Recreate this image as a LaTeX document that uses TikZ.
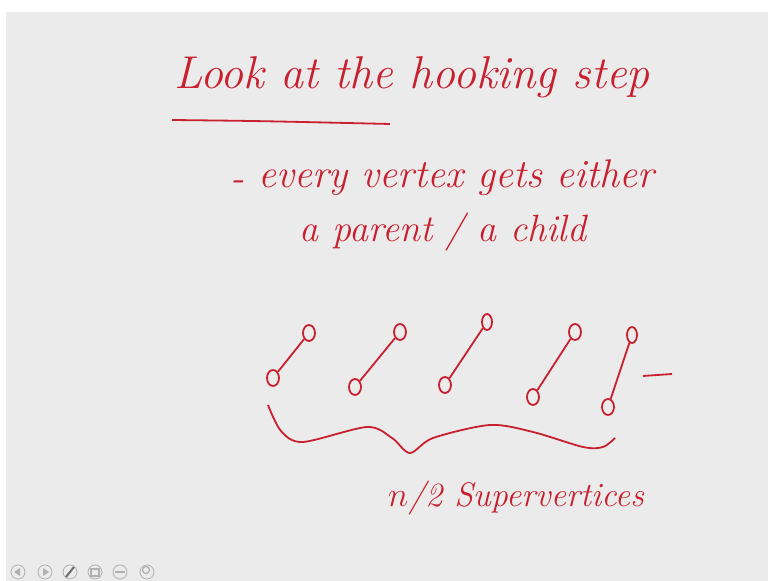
\documentclass[tikz,border=0pt]{standalone}
\usetikzlibrary{shapes.geometric}
\definecolor{inkRed}{HTML}{C8202E}
\definecolor{slideGrey}{HTML}{EBEBEB}
\definecolor{iconGrey}{HTML}{B0B0B0}

\begin{document}
\begin{tikzpicture}[x=0.5pt, y=-0.5pt, line width=0.9pt,
  every node/.style={text=inkRed},
  hand/.style={font=\fontsize{#1}{#1}\selectfont\itshape, inner sep=0pt},
  vtx/.style={draw=inkRed, ellipse, inner sep=0pt, minimum width=#1, minimum height=8pt},
  vtx/.default=6pt,
  tool/.style={draw=iconGrey, circle, line width=0.4pt, minimum size=7pt, inner sep=0pt}]
  % slide area
  \fill[white] (0,0) rectangle (768,581);
  \fill[slideGrey] (6,12) rectangle (768,581);
  \useasboundingbox (0,0) rectangle (768,581);

  % heading
  \node[hand=23pt] (title) at (412,77) {Look at the hooking step};
  \draw[inkRed] (172,120) .. controls (260,121) .. (390,124);

  \node[hand=20pt] (dash) at (237,186) {-};
  \node[hand=20pt] (line1) at (456,178) {every vertex gets either};
  \node[hand=19pt] (line2) at (443,232) {a parent / a child};

  % hooked pairs
  \foreach \i/\tx/\ty/\bx/\by/\w in {1/309/333/273/378/6pt, 2/400/332/355/387/6pt,
      3/487/322/445/385/5pt, 4/575/332/533/397/6pt, 5/632/335/608/407/5pt}{
    \node[vtx=\w] (top\i) at (\tx,\ty) {};
    \node[vtx] (bot\i) at (\bx,\by) {};
    \draw[inkRed] (bot\i) -- (top\i);}
  \draw[inkRed] (643,376) -- (672,374);

  % brace under the pairs
  \draw[inkRed] plot[smooth, tension=0.5] coordinates {(268,405) (281,431) (303,442)
    (367,427) (392,438) (410,453) (433,438) (490,425) (533,432) (583,447) (603,447) (615,438)};
  \node[hand=17pt] (count) at (516,498) {$n$/2 Supervertices};

  % viewer buttons
  \foreach \j/\x in {1/18, 2/45, 3/70, 4/95, 5/120, 6/147}
    \node[tool] (btn\j) at (\x,572) {};
  \fill[iconGrey] (btn1.center) ++(-4,0) -- ++(6,-4) -- ++(0,8) -- cycle;
  \fill[iconGrey] (btn2.center) ++(4,0) -- ++(-6,-4) -- ++(0,8) -- cycle;
  \draw[iconGrey!60!black, line width=1pt] (btn3.center) ++(-4,5) -- ++(8,-10);
  \draw[iconGrey, line width=0.6pt] (btn4.center) ++(-4,-3) rectangle ++(8,7);
  \draw[iconGrey, line width=0.8pt] (btn5.center) ++(-5,0) -- ++(10,0);
  \draw[iconGrey, line width=0.6pt] (btn6.center) ++(-1,-2) circle (3.5);
\end{tikzpicture}
\end{document}
